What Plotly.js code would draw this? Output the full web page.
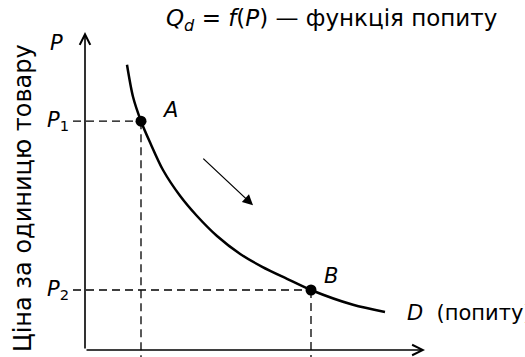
<!DOCTYPE html>
<html>
<head>
<meta charset="utf-8">
<script src="https://cdn.plot.ly/plotly-3.0.1.min.js"></script>
<style>
  html, body { margin: 0; padding: 0; background: white; }
  #chart { width: 525px; height: 357px; }
</style>
</head>
<body>
<div id="chart"></div>
<script>
// Demand curve D: quantity (Q) vs price (P)
const demandQ = [1.05, 1.2, 1.4, 1.63, 1.95, 2.38, 2.8, 3.3, 3.88, 4.43, 5.05, 5.65, 6.7, 7.5];
const demandP = [7.13, 6.33, 5.72, 5.18, 4.5, 3.85, 3.35, 2.85, 2.4, 2.08, 1.78, 1.5, 1.13, 0.95];

// Marked points A and B
const pointNames = ['A', 'B'];
const pointQ = [1.4, 5.65];
const pointP = [5.72, 1.5];
const priceLabels = ['<i>P</i><sub>1</sub>', '<i>P</i><sub>2</sub>'];

// no serif face in the sandbox, DejaVu Sans is the closest in width
const FONT = 'DejaVu Sans';
const INK = '#000000';

const X_RANGE = [-2.125, 11];
const Y_RANGE = [-0.175, 8.75];
const GUIDE_START = -0.3;

const guides = [];
pointQ.forEach((q, i) => {
  guides.push({
    type: 'scatter', mode: 'lines',
    x: [GUIDE_START, q], y: [pointP[i], pointP[i]],
    line: { color: INK, width: 1.3, dash: '8px,5px' },
    hoverinfo: 'skip',
  });
  guides.push({
    type: 'scatter', mode: 'lines',
    x: [q, q], y: [pointP[i], Y_RANGE[0]],
    line: { color: INK, width: 1.3, dash: '8px,5px' },
    hoverinfo: 'skip',
  });
});

const data = [
  ...guides,
  {
    type: 'scatter', mode: 'lines',
    x: demandQ, y: demandP,
    line: { color: INK, width: 2.5, shape: 'spline', smoothing: 0.8 },
    hoverinfo: 'skip',
  },
  {
    type: 'scatter', mode: 'markers',
    x: pointQ, y: pointP,
    marker: { color: INK, size: 11 },
    hoverinfo: 'skip',
  },
];

const axisArrow = (x, y, ax, ay) => ({
  x: x, y: y, ax: ax, ay: ay,
  xref: 'x', yref: 'y', axref: 'x', ayref: 'y',
  text: '', showarrow: true,
  arrowhead: 5, arrowsize: 1.3, arrowwidth: 1.6, arrowcolor: INK,
  standoff: 0, startstandoff: 0,
});

const label = (x, y, text, size, extra = {}) => ({
  x: x, y: y, xref: 'x', yref: 'y',
  text: text, showarrow: false,
  font: { family: FONT, size: size, color: INK },
  ...extra,
});

const layout = {
  width: 525,
  height: 357,
  margin: { t: 0, r: 0, b: 0, l: 0 },
  font: { family: FONT, color: INK },
  paper_bgcolor: 'white',
  plot_bgcolor: 'white',
  showlegend: false,
  xaxis: { range: X_RANGE, visible: false, fixedrange: true },
  yaxis: { range: Y_RANGE, visible: false, fixedrange: true },
  annotations: [
    axisArrow(0, 7.95, 0, 0),
    axisArrow(8.5, 0, 0, 0),
    {
      x: 4.2, y: 3.62, ax: 2.92, ay: 4.82,
      xref: 'x', yref: 'y', axref: 'x', ayref: 'y',
      text: '', showarrow: true,
      arrowhead: 2, arrowsize: 1.6, arrowwidth: 1.3, arrowcolor: INK,
      standoff: 0,
    },
    label(-0.72, 7.68, '<i>P</i>', 21),
    label(-0.35, pointP[0], priceLabels[0], 21, { xanchor: 'right' }),
    label(-0.35, pointP[1], priceLabels[1], 21, { xanchor: 'right' }),
    label(pointQ[0] + 0.72, pointP[0] + 0.27, '<i>' + pointNames[0] + '</i>', 21),
    label(pointQ[1] + 0.5, pointP[1] + 0.35, '<i>' + pointNames[1] + '</i>', 21),
    label(8.0, 0.93, '<i>D</i>  (попиту)', 21, { xanchor: 'left' }),
    label(6.15, 8.25, '<i>Q</i><sub><i>d</i></sub> = <i>f</i>(<i>P</i>) — функція попиту', 23),
    label(-1.55, 3.8, 'Ціна за одиницю товару', 24, { textangle: -90 }),
  ],
};

Plotly.newPlot('chart', data, layout, { displayModeBar: false, staticPlot: true });
</script>
</body>
</html>
